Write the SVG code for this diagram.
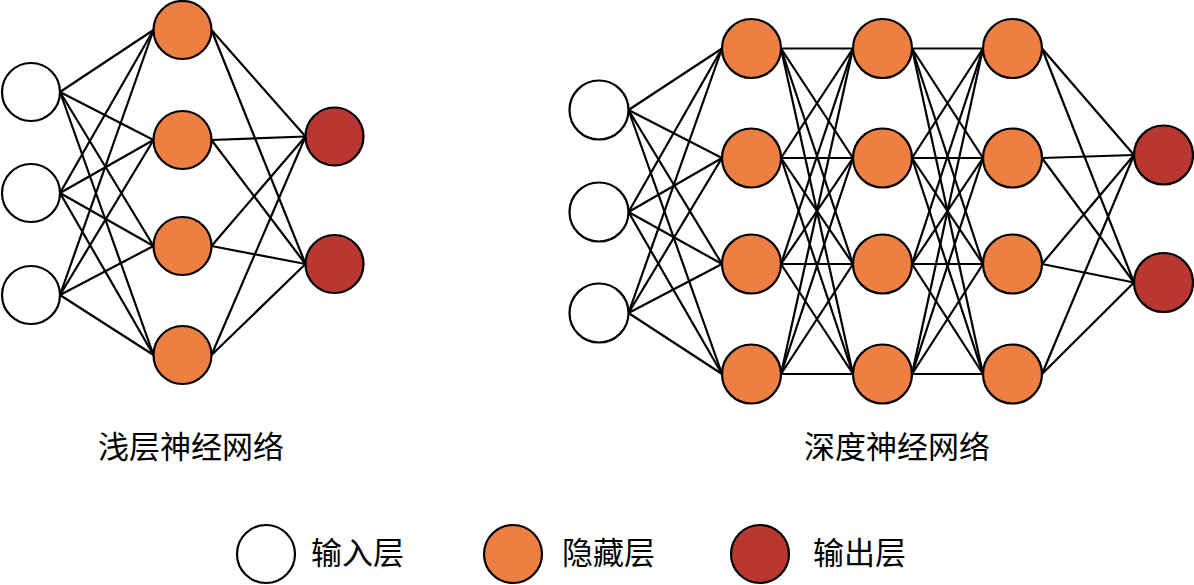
<svg xmlns="http://www.w3.org/2000/svg" width="1194" height="585" viewBox="0 0 1194 585">
<style>
.in{fill:#ffffff;stroke:#000;stroke-width:2.2}
.hid{fill:#EE7F42;stroke:#000;stroke-width:2.2}
.out{fill:#B83831;stroke:#000;stroke-width:2.2}
#connectors line{stroke:#000;stroke-width:2.2}
text{font-family:"Noto Sans CJK SC","Noto Sans",sans-serif;fill:#000}
.t{font-size:31px}
.l{font-size:31px}
</style>
<rect width="1194" height="585" fill="#fff"/>
<g id="connectors">
<line x1="60" y1="92" x2="153.5" y2="30"/><line x1="60" y1="92" x2="153.5" y2="140"/><line x1="60" y1="92" x2="153.5" y2="246"/><line x1="60" y1="92" x2="153.5" y2="355"/>
<line x1="60" y1="193" x2="153.5" y2="30"/><line x1="60" y1="193" x2="153.5" y2="140"/><line x1="60" y1="193" x2="153.5" y2="246"/><line x1="60" y1="193" x2="153.5" y2="355"/>
<line x1="60" y1="295" x2="153.5" y2="30"/><line x1="60" y1="295" x2="153.5" y2="140"/><line x1="60" y1="295" x2="153.5" y2="246"/><line x1="60" y1="295" x2="153.5" y2="355"/>
<line x1="211.5" y1="30" x2="305.5" y2="136.5"/><line x1="211.5" y1="30" x2="305.5" y2="264"/>
<line x1="211.5" y1="140" x2="305.5" y2="136.5"/><line x1="211.5" y1="140" x2="305.5" y2="264"/>
<line x1="211.5" y1="246" x2="305.5" y2="136.5"/><line x1="211.5" y1="246" x2="305.5" y2="264"/>
<line x1="211.5" y1="355" x2="305.5" y2="136.5"/><line x1="211.5" y1="355" x2="305.5" y2="264"/>
<line x1="628.5" y1="110" x2="722" y2="48.5"/><line x1="628.5" y1="110" x2="722" y2="158"/><line x1="628.5" y1="110" x2="722" y2="264"/><line x1="628.5" y1="110" x2="722" y2="374"/>
<line x1="628.5" y1="212" x2="722" y2="48.5"/><line x1="628.5" y1="212" x2="722" y2="158"/><line x1="628.5" y1="212" x2="722" y2="264"/><line x1="628.5" y1="212" x2="722" y2="374"/>
<line x1="628.5" y1="313" x2="722" y2="48.5"/><line x1="628.5" y1="313" x2="722" y2="158"/><line x1="628.5" y1="313" x2="722" y2="264"/><line x1="628.5" y1="313" x2="722" y2="374"/>
<line x1="781" y1="48.5" x2="853" y2="48.5"/><line x1="781" y1="48.5" x2="853" y2="158"/><line x1="781" y1="48.5" x2="853" y2="264"/><line x1="781" y1="48.5" x2="853" y2="374"/>
<line x1="781" y1="158" x2="853" y2="48.5"/><line x1="781" y1="158" x2="853" y2="158"/><line x1="781" y1="158" x2="853" y2="264"/><line x1="781" y1="158" x2="853" y2="374"/>
<line x1="781" y1="264" x2="853" y2="48.5"/><line x1="781" y1="264" x2="853" y2="158"/><line x1="781" y1="264" x2="853" y2="264"/><line x1="781" y1="264" x2="853" y2="374"/>
<line x1="781" y1="374" x2="853" y2="48.5"/><line x1="781" y1="374" x2="853" y2="158"/><line x1="781" y1="374" x2="853" y2="264"/><line x1="781" y1="374" x2="853" y2="374"/>
<line x1="912" y1="48.5" x2="983" y2="48.5"/><line x1="912" y1="48.5" x2="983" y2="158"/><line x1="912" y1="48.5" x2="983" y2="264"/><line x1="912" y1="48.5" x2="983" y2="374"/>
<line x1="912" y1="158" x2="983" y2="48.5"/><line x1="912" y1="158" x2="983" y2="158"/><line x1="912" y1="158" x2="983" y2="264"/><line x1="912" y1="158" x2="983" y2="374"/>
<line x1="912" y1="264" x2="983" y2="48.5"/><line x1="912" y1="264" x2="983" y2="158"/><line x1="912" y1="264" x2="983" y2="264"/><line x1="912" y1="264" x2="983" y2="374"/>
<line x1="912" y1="374" x2="983" y2="48.5"/><line x1="912" y1="374" x2="983" y2="158"/><line x1="912" y1="374" x2="983" y2="264"/><line x1="912" y1="374" x2="983" y2="374"/>
<line x1="1042" y1="48.5" x2="1134" y2="155"/><line x1="1042" y1="48.5" x2="1134" y2="282.5"/>
<line x1="1042" y1="158" x2="1134" y2="155"/><line x1="1042" y1="158" x2="1134" y2="282.5"/>
<line x1="1042" y1="264" x2="1134" y2="155"/><line x1="1042" y1="264" x2="1134" y2="282.5"/>
<line x1="1042" y1="374" x2="1134" y2="155"/><line x1="1042" y1="374" x2="1134" y2="282.5"/>
</g>
<g id="s-in1"><circle class="in" cx="31" cy="92" r="29"/></g>
<g id="s-in2"><circle class="in" cx="31" cy="193" r="29"/></g>
<g id="s-in3"><circle class="in" cx="31" cy="295" r="29"/></g>
<g id="s-h1"><circle class="hid" cx="182.5" cy="30" r="29"/></g>
<g id="s-h2"><circle class="hid" cx="182.5" cy="140" r="29"/></g>
<g id="s-h3"><circle class="hid" cx="182.5" cy="246" r="29"/></g>
<g id="s-h4"><circle class="hid" cx="182.5" cy="355" r="29"/></g>
<g id="s-o1"><circle class="out" cx="334.5" cy="136.5" r="29"/></g>
<g id="s-o2"><circle class="out" cx="334.5" cy="264" r="29"/></g>
<g id="d-in1"><circle class="in" cx="599" cy="110" r="29.5"/></g>
<g id="d-in2"><circle class="in" cx="599" cy="212" r="29.5"/></g>
<g id="d-in3"><circle class="in" cx="599" cy="313" r="29.5"/></g>
<g id="d-h11"><circle class="hid" cx="751.5" cy="48.5" r="29.5"/></g>
<g id="d-h12"><circle class="hid" cx="751.5" cy="158" r="29.5"/></g>
<g id="d-h13"><circle class="hid" cx="751.5" cy="264" r="29.5"/></g>
<g id="d-h14"><circle class="hid" cx="751.5" cy="374" r="29.5"/></g>
<g id="d-h21"><circle class="hid" cx="882.5" cy="48.5" r="29.5"/></g>
<g id="d-h22"><circle class="hid" cx="882.5" cy="158" r="29.5"/></g>
<g id="d-h23"><circle class="hid" cx="882.5" cy="264" r="29.5"/></g>
<g id="d-h24"><circle class="hid" cx="882.5" cy="374" r="29.5"/></g>
<g id="d-h31"><circle class="hid" cx="1012.5" cy="48.5" r="29.5"/></g>
<g id="d-h32"><circle class="hid" cx="1012.5" cy="158" r="29.5"/></g>
<g id="d-h33"><circle class="hid" cx="1012.5" cy="264" r="29.5"/></g>
<g id="d-h34"><circle class="hid" cx="1012.5" cy="374" r="29.5"/></g>
<g id="d-o1"><circle class="out" cx="1163.5" cy="155" r="29.5"/></g>
<g id="d-o2"><circle class="out" cx="1163.5" cy="282.5" r="29.5"/></g>
<g id="title-shallow"><text class="t" x="98" y="458">浅层神经网络</text></g>
<g id="title-deep"><text class="t" x="804" y="458">深度神经网络</text></g>
<g id="legend-in"><circle class="in" cx="266" cy="554" r="29"/><text class="l" x="311" y="564">输入层</text></g>
<g id="legend-hid"><circle class="hid" cx="513" cy="554" r="29"/><text class="l" x="562" y="564">隐藏层</text></g>
<g id="legend-out"><circle class="out" cx="760" cy="554" r="29"/><text class="l" x="813" y="564">输出层</text></g>
</svg>
